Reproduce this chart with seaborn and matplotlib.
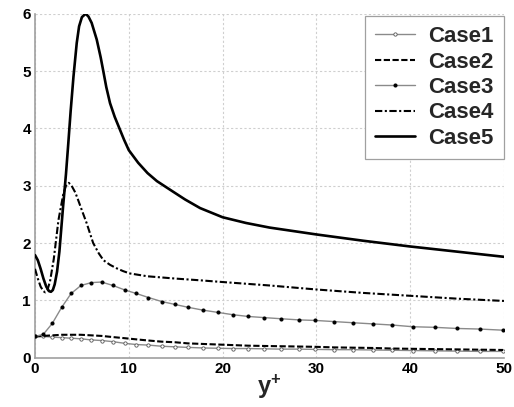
import matplotlib
matplotlib.use("Agg")
import matplotlib.pyplot as plt
import seaborn as sns
import pandas as pd

# ---- data ----
mesh_x = [0, 0.9, 1.85, 2.85, 3.85, 4.9, 6.0, 7.1, 8.3, 9.6, 10.8, 12.1, 13.5, 14.9,
          16.3, 17.9, 19.5, 21.1, 22.7, 24.4, 26.2, 28.1, 29.9, 31.9, 33.9, 36.0,
          38.1, 40.3, 42.6, 45.0, 47.4, 49.9]
case1_y = [0.37, 0.37, 0.36, 0.35, 0.34, 0.33, 0.31, 0.30, 0.28, 0.25, 0.23, 0.22,
           0.20, 0.19, 0.18, 0.17, 0.165, 0.16, 0.16, 0.155, 0.15, 0.15, 0.145, 0.14,
           0.14, 0.135, 0.13, 0.125, 0.12, 0.115, 0.11, 0.11]
case2_y = [0.37, 0.38, 0.39, 0.40, 0.40, 0.40, 0.39, 0.38, 0.36, 0.34, 0.32, 0.30,
           0.28, 0.27, 0.25, 0.24, 0.23, 0.22, 0.21, 0.205, 0.20, 0.195, 0.19, 0.18,
           0.175, 0.17, 0.16, 0.155, 0.15, 0.145, 0.14, 0.135]
case3_y = [0.37, 0.41, 0.60, 0.88, 1.12, 1.26, 1.31, 1.32, 1.26, 1.18, 1.12, 1.05,
           0.98, 0.93, 0.88, 0.83, 0.79, 0.75, 0.72, 0.70, 0.68, 0.66, 0.65, 0.63,
           0.61, 0.59, 0.57, 0.54, 0.53, 0.51, 0.50, 0.48]
case4_x = [0, 0.3, 0.6, 0.9, 1.1, 1.3, 1.6, 2.0, 2.5, 3.0, 3.3, 3.6, 3.9, 4.3, 4.6,
           5.0, 5.5, 6.2, 6.8, 7.3, 8.0, 8.7, 9.4, 10.1, 12, 15, 17.6, 20, 25, 30,
           35, 40, 45, 50]
case4_y = [1.55, 1.38, 1.24, 1.16, 1.14, 1.17, 1.33, 1.72, 2.40, 2.84, 3.00, 3.05,
           3.00, 2.88, 2.75, 2.57, 2.35, 2.00, 1.82, 1.70, 1.62, 1.56, 1.51, 1.47,
           1.42, 1.38, 1.35, 1.32, 1.26, 1.19, 1.13, 1.08, 1.03, 0.99]
case5_x = [0, 0.3, 0.6, 0.9, 1.2, 1.5, 1.7, 1.9, 2.1, 2.35, 2.6, 3.0, 3.3, 3.55,
           3.8, 4.1, 4.45, 4.7, 5.0, 5.4, 5.7, 6.04, 6.3, 6.58, 7.0, 7.28, 7.6, 8.0,
           8.5, 9.0, 9.5, 10, 11, 12, 13, 14.4, 16, 17.6, 20, 22.5, 25, 30, 35, 40,
           45, 50]
case5_y = [1.79, 1.70, 1.55, 1.38, 1.24, 1.16, 1.15, 1.18, 1.28, 1.50, 1.85, 2.65,
           3.20, 3.74, 4.30, 4.90, 5.49, 5.78, 5.94, 6.00, 5.95, 5.84, 5.70, 5.55,
           5.24, 5.00, 4.72, 4.44, 4.20, 4.00, 3.80, 3.62, 3.40, 3.22, 3.08, 2.93,
           2.76, 2.61, 2.45, 2.35, 2.27, 2.15, 2.04, 1.94, 1.85, 1.76]
labels = ["Case1", "Case2", "Case3", "Case4", "Case5"]
x_ticks = [0, 10, 20, 30, 40, 50]
y_ticks = [0, 1, 2, 3, 4, 5, 6]

sns.set_theme(style="white")
plt.rcParams['font.family'] = ['Liberation Sans', 'DejaVu Sans']
plt.rcParams['mathtext.fontset'] = 'custom'
plt.rcParams['mathtext.bf'] = 'Liberation Sans:bold'
plt.rcParams['mathtext.rm'] = 'Liberation Sans'

fig = plt.figure(figsize=(5.14, 4.07), dpi=100)
ax = fig.add_axes([0.0681, 0.1211, 0.9124, 0.8452])

def draw(x, y, **kw):
    df = pd.DataFrame({"x": x, "y": y})
    sns.lineplot(data=df, x="x", y="y", ax=ax, sort=False, estimator=None, **kw)

draw(mesh_x, case1_y, color="#8a8a8a", lw=1.0, marker="o", markersize=2.4,
     markerfacecolor="white", markeredgecolor="#555555", markeredgewidth=0.6,
     label=labels[0], zorder=3)
draw(mesh_x, case2_y, color="black", lw=1.5, dashes=(3, 1.2), label=labels[1], zorder=3)
draw(mesh_x, case3_y, color="#8a8a8a", lw=1.0, marker="o", markersize=2.2,
     markerfacecolor="black", markeredgecolor="black", label=labels[2], zorder=3)
draw(case4_x, case4_y, color="black", lw=1.5, dashes=(3.5, 1.2, 1, 1.2), label=labels[3], zorder=3)
draw(case5_x, case5_y, color="black", lw=1.9, label=labels[4], zorder=4)

ax.set_xlim(0, 50)
ax.set_ylim(0, 6)
ax.set_xticks(x_ticks)
ax.set_yticks(y_ticks)
ax.set_xticklabels([str(v) for v in x_ticks], fontweight="bold", fontsize=11)
ax.set_yticklabels([str(v) for v in y_ticks], fontweight="bold", fontsize=11)
ax.tick_params(axis="both", length=0, pad=3, colors="black")
ax.grid(True, color="#cfcfcf", linestyle=(0, (2, 2)), linewidth=0.8)
ax.set_axisbelow(True)
for s in ["top", "right"]:
    ax.spines[s].set_visible(False)
for s in ["left", "bottom"]:
    ax.spines[s].set_color("#a0a0a0")
    ax.spines[s].set_linewidth(1.2)
ax.set_ylabel("")
ax.set_xlabel(r"$\mathbf{y^{+}}$", fontsize=17, labelpad=-2)

leg = ax.legend(loc="upper right", bbox_to_anchor=(0.999, 0.993), borderaxespad=0.0,
                prop={"weight": "bold", "size": 16}, frameon=True, fancybox=False,
                edgecolor="#a0a0a0", framealpha=1, handlelength=1.8,
                labelspacing=0.2, borderpad=0.45, handletextpad=0.6)
leg.get_frame().set_linewidth(0.9)

fig.savefig("out.png", dpi=100)
